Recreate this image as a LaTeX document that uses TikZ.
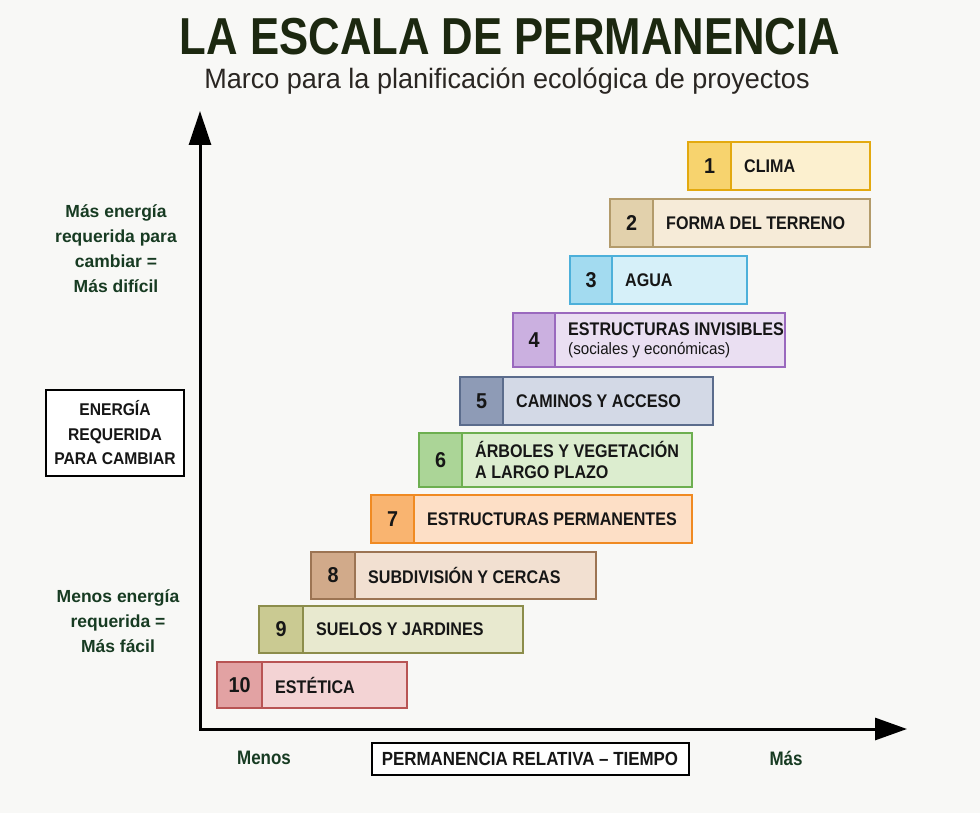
\documentclass[tikz,border=0pt]{standalone}
\usepackage{fontspec}
\usepackage{graphicx}
\setmainfont{Liberation Sans}
\newfontfamily\titlefont[FakeStretch=0.84]{Liberation Sans}
\newfontfamily\subfont[FakeStretch=0.965]{Liberation Sans}
\newfontfamily\condfont[FakeStretch=0.88]{Liberation Sans}
\newfontfamily\boxfont[FakeStretch=0.92]{Liberation Sans}
\newfontfamily\sidefont[FakeStretch=1.0]{Liberation Sans}
\newfontfamily\narrowfont[FakeStretch=0.87]{Liberation Sans}
\newfontfamily\permfont[FakeStretch=0.89]{Liberation Sans}
\usetikzlibrary{arrows.meta}

\definecolor{bg}{HTML}{F8F8F6}
\definecolor{titlecol}{HTML}{1C2810}
\definecolor{subcol}{HTML}{2A2622}
\definecolor{greencol}{HTML}{173B22}
\definecolor{inkcol}{HTML}{161616}

\definecolor{climaline}{HTML}{E3A90F}\definecolor{climanum}{HTML}{F7D36E}\definecolor{climabody}{HTML}{FCF0CF}
\definecolor{formaline}{HTML}{B39B6B}\definecolor{formanum}{HTML}{E2D1AC}\definecolor{formabody}{HTML}{F6EBD8}
\definecolor{agualine}{HTML}{4DB0DA}\definecolor{aguanum}{HTML}{A3DBF0}\definecolor{aguabody}{HTML}{D6F0F9}
\definecolor{invisline}{HTML}{9A69BE}\definecolor{invisnum}{HTML}{CBB0E0}\definecolor{invisbody}{HTML}{EADFF2}
\definecolor{caminline}{HTML}{5B6C8C}\definecolor{caminnum}{HTML}{8E9BB6}\definecolor{caminbody}{HTML}{D3D9E6}
\definecolor{arbolline}{HTML}{6DAF50}\definecolor{arbolnum}{HTML}{ABD597}\definecolor{arbolbody}{HTML}{DCEDCF}
\definecolor{estruline}{HTML}{F08A22}\definecolor{estrunum}{HTML}{F9B470}\definecolor{estrubody}{HTML}{FDDFC6}
\definecolor{subdiline}{HTML}{9C7453}\definecolor{subdinum}{HTML}{D1AA8A}\definecolor{subdibody}{HTML}{F2E0D1}
\definecolor{sueloline}{HTML}{8C8D4B}\definecolor{suelonum}{HTML}{CACA92}\definecolor{suelobody}{HTML}{E8E9CF}
\definecolor{estetline}{HTML}{B85454}\definecolor{estetnum}{HTML}{E2A2A3}\definecolor{estetbody}{HTML}{F3D3D4}

\tikzset{
  numtext/.style={text=inkcol, font=\boxfont\bfseries\fontsize{21.5}{24}\selectfont, inner sep=0pt},
  labeltext/.style={text=inkcol, font=\condfont\bfseries\fontsize{18.3}{21}\selectfont, align=left, inner sep=0pt, anchor=west},
  greentext/.style={text=greencol, font=\sidefont\bfseries\fontsize{17.5}{25}\selectfont, align=center, inner sep=0pt},
  greenbottom/.style={text=greencol, font=\narrowfont\bfseries\fontsize{19.5}{23}\selectfont, inner sep=0pt},
  framedlabel/.style={draw=black, line width=2pt, fill=white, text=inkcol, align=center, inner sep=0pt},
  axisline/.style={line width=3pt, black},
}

% #1 id, #2 number, #3 xleft, #4 xdivider, #5 xright, #6 ytop, #7 ybottom, #8 colour prefix, #9 label
\newcommand\permbox[9]{%
  \fill[#8body] (#3,#6) rectangle (#5,#7);
  \fill[#8num] (#3,#6) rectangle (#4,#7);
  \draw[#8line, line width=2pt] (#4,#6) -- (#4,#7);
  \draw[#8line, line width=2pt] (#3,#6) rectangle (#5,#7);
  \node[numtext] (n#1) at ({(#3+#4)/2},{(#6+#7)/2}) {#2};
  \node[labeltext] (l#1) at ({#4+13},{(#6+#7)/2}) {#9};
}

\begin{document}
\begin{tikzpicture}[x=1pt,y=-1pt]
\fill[bg] (0,0) rectangle (980,813);
\useasboundingbox (0,0) rectangle (980,813);

% title
\node[text=titlecol, font=\titlefont\bfseries\fontsize{52}{60}\selectfont, inner sep=0pt, anchor=base] (title) at (510,55) {LA ESCALA DE PERMANENCIA};
\node[text=subcol, font=\subfont\fontsize{28}{32}\selectfont, inner sep=0pt, anchor=base] (subtitle) at (507,89) {Marco para la planificación ecológica de proyectos};

% axes
\coordinate (ytop) at (200,111);
\coordinate (origin) at (200,729);
\coordinate (xend) at (907,729);
\draw[axisline, {Triangle[length=34pt,width=22pt]}-{Triangle[length=32pt,width=22pt]}] (ytop) -- (origin) -- (xend);

% boxes
\permbox{1}{1}{688}{731}{870}{142}{190}{clima}{CLIMA}
\permbox{2}{2}{610}{653}{870}{199}{247}{forma}{FORMA DEL TERRENO}
\permbox{3}{3}{570}{612}{747}{256}{304}{agua}{AGUA}
\permbox{4}{4}{513}{555}{785}{313}{367}{invis}{ESTRUCTURAS INVISIBLES\\[-2pt]{\boxfont\mdseries\fontsize{16.5}{18}\selectfont (sociales y económicas)}}
\permbox{5}{5}{460}{503}{713}{377}{425}{camin}{CAMINOS Y ACCESO}
\permbox{6}{6}{419}{462}{692}{433}{487}{arbol}{ÁRBOLES Y VEGETACIÓN\\A LARGO PLAZO}
\permbox{7}{7}{371}{414}{692}{495}{543}{estru}{ESTRUCTURAS PERMANENTES}
\permbox{8}{8}{311}{355}{596}{552}{599}{subdi}{SUBDIVISIÓN Y CERCAS}
\permbox{9}{9}{259}{303}{523}{606}{653}{suelo}{SUELOS Y JARDINES}
\permbox{10}{10}{217}{262}{407}{662}{708}{estet}{ESTÉTICA}

% left side
\node[greentext] (more) at (116,249) {Más energía\\requerida para\\cambiar =\\Más difícil};
\node[framedlabel, minimum width=138pt, minimum height=86pt, font=\boxfont\bfseries\fontsize{17}{24.5}\selectfont] (energy) at (115,433) {ENERGÍA\\REQUERIDA\\PARA CAMBIAR};
\node[greentext] (less) at (118,621) {Menos energía\\requerida =\\Más fácil};

% bottom
\node[greenbottom] (menos) at (264,758) {Menos};
\node[greenbottom] (mas) at (786,758) {Más};
\node[framedlabel, minimum width=317pt, minimum height=32pt, font=\permfont\bfseries\fontsize{19}{22}\selectfont] (perm) at (530,759) {PERMANENCIA RELATIVA – TIEMPO};
\end{tikzpicture}
\end{document}
